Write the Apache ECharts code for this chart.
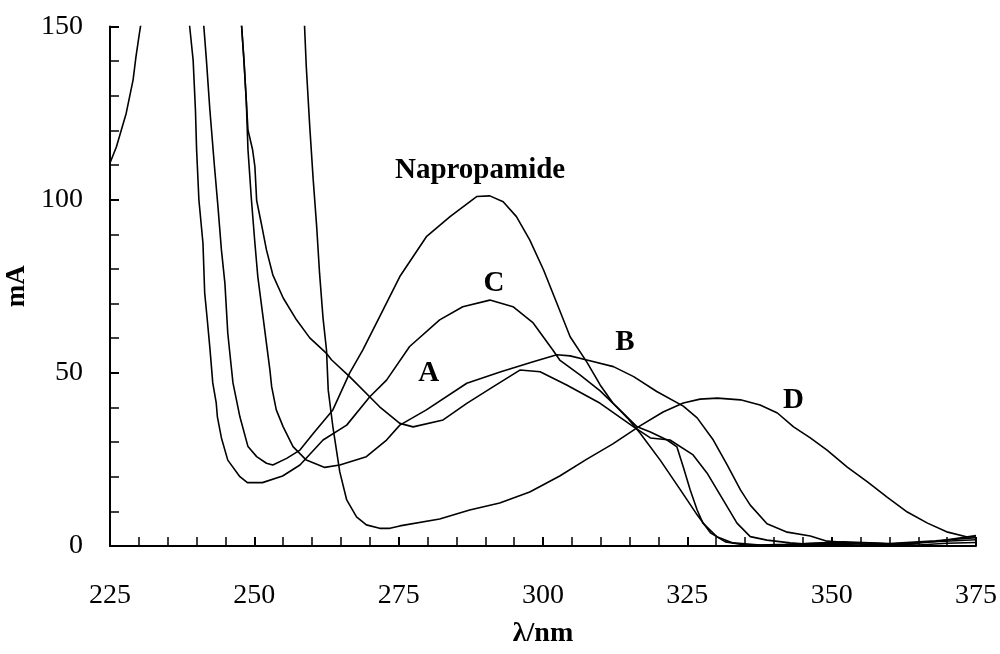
<!DOCTYPE html>
<html>
<head>
<meta charset="utf-8">
<script src="https://cdn.jsdelivr.net/npm/echarts@6/dist/echarts.min.js"></script>
<style>
html,body{margin:0;padding:0;background:#fff;}
#chart{width:1000px;height:654px;}
</style>
</head>
<body>
<div id="chart"></div>
<script>
// ---- data (wavelength nm, absorbance mA) ----
const xTicks = [225, 250, 275, 300, 325, 350, 375];
const yTicks = [0, 50, 100, 150];

const napropamide = [
 [240.9,157.7],[241.7,140.3],[242.3,125.9],[243.1,109.5],[243.7,98.0],[244.3,85.5],[244.9,75.9],
 [245.4,61.5],[245.7,56.6],[246.3,47.1],[247.5,37.3],[248.9,28.7],[250.4,25.8],[252.1,23.9],
 [253.2,23.4],[255.6,25.3],[257.9,27.7],[260.2,32.5],[263.6,39.3],[266.5,49.9],[268.8,56.6],
 [272.3,68.2],[275.2,77.8],[279.8,89.3],[283.9,95.1],[288.5,100.9],[290.8,101.1],[293.1,99.4],
 [295.4,95.1],[297.7,88.4],[300.1,79.7],[302.4,70.1],[304.7,60.4],[307.6,53.1],[309.9,46.5],
 [312.1,41.3],[314.6,37.0],[316.8,32.6],[320.3,24.8],[323.8,16.2],[326.7,9.0],[329.0,3.8],
 [331.6,1.2],[335.0,0.3],[340,0.3],[350,0.6],[355,0.2],[360,0.5],[365,0.3],[370,0.8],[375,1.0]
];
const curveA = [
 [247.5,157.7],[247.8,150.0],[248.2,140.3],[248.6,128.8],[248.9,120.1],[249.7,114.4],[250.1,109.5],
 [250.4,99.8],[251.2,93.2],[252.1,85.5],[253.2,78.3],[255.0,71.6],[257.3,65.3],[259.6,60.1],
 [262.5,55.6],[263.4,53.7],[266.5,48.9],[271.7,40.2],[275.2,35.4],[277.5,34.4],[282.7,36.4],
 [286.8,41.2],[291.4,46.0],[296.0,50.8],[299.5,50.3],[304.1,46.5],[309.9,41.2],[315.7,34.4],
 [318.6,31.2],[322.0,30.6],[326.0,26.3],[328.4,21.1],[331.2,13.3],[333.6,6.6],[335.9,2.7],
 [338.8,1.7],[342.8,0.9],[345,0.6],[352,1.2],[360,0.7],[368,1.5],[375,2.4]
];
const curveB = [
 [247.5,157.7],[247.8,150.0],[248.2,140.3],[248.6,128.8],[248.9,114.4],[249.5,99.9],[250.1,87.4],
 [250.6,77.8],[251.5,66.2],[252.1,58.5],[252.7,50.8],[253.0,46.0],[253.8,39.3],[255.0,34.4],
 [256.7,28.7],[259.0,24.8],[262.2,22.7],[264.8,23.4],[269.4,25.8],[272.9,30.6],[275.2,34.9],
 [279.8,39.3],[286.8,47.0],[292.7,50.3],[298.3,53.2],[302.4,55.2],[304.7,54.9],[307.6,53.7],
 [312.2,51.8],[315.7,48.9],[319.7,44.6],[324.3,40.4],[326.7,37.0],[329.5,30.6],[331.9,23.4],
 [334.2,16.2],[335.9,11.8],[338.8,6.4],[342.3,4.0],[346.3,2.9],[349.2,1.4],[353.2,0.9],
 [356,0.9],[362,0.4],[368,1.3],[375,3.0]
];
const curveC = [
 [238.4,157.7],[238.8,150.0],[239.4,140.3],[239.8,125.9],[240.0,114.4],[240.4,99.9],[241.1,87.5],
 [241.4,73.1],[241.8,66.2],[242.3,57.2],[242.8,47.1],[243.4,41.3],[243.6,37.3],[244.3,31.2],
 [245.4,24.8],[247.5,20.0],[248.8,18.3],[251.4,18.3],[254.9,20.2],[257.9,23.4],[261.9,30.6],
 [266.0,34.9],[270.0,43.1],[272.9,47.9],[276.9,57.6],[282.1,65.3],[286.1,69.1],[290.8,71.0],
 [294.8,69.1],[298.3,64.4],[301.7,56.6],[302.9,53.7],[306.4,49.4],[309.9,44.8],[313.3,39.3],
 [316.3,34.4],[318.6,32.9],[321.5,30.6],[323.2,28.6],[324.3,22.8],[325.5,16.2],[326.7,10.4],
 [327.7,6.6],[330.1,2.7],[332.9,0.9],[337.6,0.3],[342,0.5],[350,0.9],[358,0.4],[366,1.1],[375,1.8]
];
const curveD = [
 [258.6,157.7],[258.7,150.0],[259.0,138.4],[259.6,121.1],[260.2,105.7],[260.8,92.2],[261.3,78.7],
 [261.9,65.8],[262.5,56.6],[262.8,45.0],[263.6,34.5],[264.8,21.4],[266.0,13.3],[267.7,8.4],
 [269.4,6.1],[271.7,5.1],[273.5,5.1],[275.2,5.8],[282.1,7.8],[287.3,10.4],[292.5,12.4],
 [297.7,15.6],[302.9,20.2],[307.6,25.1],[312.1,29.5],[316.8,34.7],[320.8,38.7],[324.3,41.3],
 [327.2,42.4],[330.2,42.7],[334.2,42.2],[337.6,40.7],[340.6,38.4],[343.4,34.4],[346.3,31.2],
 [349.2,27.7],[352.7,22.8],[356.2,18.5],[359.6,14.1],[363.1,9.8],[366.6,6.6],[370.1,4.0],
 [373.5,2.6],[375,2.6]
];
const leftTrace = [
 [225.0,110.6],[226.1,115.2],[227.8,124.9],[229.0,134.6],[229.5,141.3],[230.1,148.1],[230.3,150.2],[231.0,160]
];
// curve labels: [x, y, text]
const annotations = [
 [289.1,108.3,'Napropamide'],[291.5,75.9,'C'],[314.2,58.8,'B'],[280.2,49.9,'A'],[343.4,41.9,'D']
];

const FONT = 'Liberation Serif, Times New Roman, serif';
const chart = echarts.init(document.getElementById('chart'), null, {renderer:'canvas'});
const lineStyle = {color:'#000', width:1.6};
function lineSeries(name, data){
  return {name, type:'line', data, showSymbol:false, symbol:'none', clip:true,
    lineStyle, itemStyle:{color:'#000'}, silent:true, animation:false, z:3};
}
const axisCommon = {
  axisLine:{show:true, onZero:false, lineStyle:{color:'#000', width:2}},
  axisTick:{show:true, inside:true, length:9, lineStyle:{color:'#000', width:2}},
  minorTick:{show:true, splitNumber:5, length:9, lineStyle:{color:'#000', width:1.5}},
  splitLine:{show:false},
  minorSplitLine:{show:false},
  axisLabel:{color:'#000', fontFamily:FONT, fontSize:28}
};
chart.setOption({
  animation:false,
  backgroundColor:'#fff',
  grid:{left:110, right:24, top:26.5, bottom:108, containLabel:false, outerBoundsMode:'none'},
  xAxis:{type:'value', min:xTicks[0], max:xTicks[xTicks.length-1], interval:25,
    ...axisCommon,
    axisLabel:{...axisCommon.axisLabel, margin:36},
    name:'λ/nm', nameLocation:'middle', nameGap:74,
    nameTextStyle:{color:'#000', fontFamily:FONT, fontSize:28, fontWeight:'bold'}
  },
  yAxis:{type:'value', min:yTicks[0], max:yTicks[yTicks.length-1], interval:50,
    ...axisCommon,
    axisLabel:{...axisCommon.axisLabel, margin:27},
    name:'mA', nameLocation:'middle', nameGap:78, nameRotate:90,
    nameTextStyle:{color:'#000', fontFamily:FONT, fontSize:27, fontWeight:'bold'}
  },
  series:[
    lineSeries('Napropamide', napropamide),
    lineSeries('A', curveA),
    lineSeries('B', curveB),
    lineSeries('C', curveC),
    lineSeries('D', curveD),
    lineSeries('left', leftTrace),
    {type:'scatter', data:annotations, symbolSize:1, silent:true, z:5,
      encode:{x:0, y:1},
      itemStyle:{color:'#000', opacity:0},
      label:{show:true, position:'inside', formatter:p=>p.data[2], color:'#000',
        textBorderWidth:0, textShadowBlur:0, opacity:1,
        fontFamily:FONT, fontSize:29, fontWeight:'bold'}}
  ]
});
</script>
</body>
</html>
